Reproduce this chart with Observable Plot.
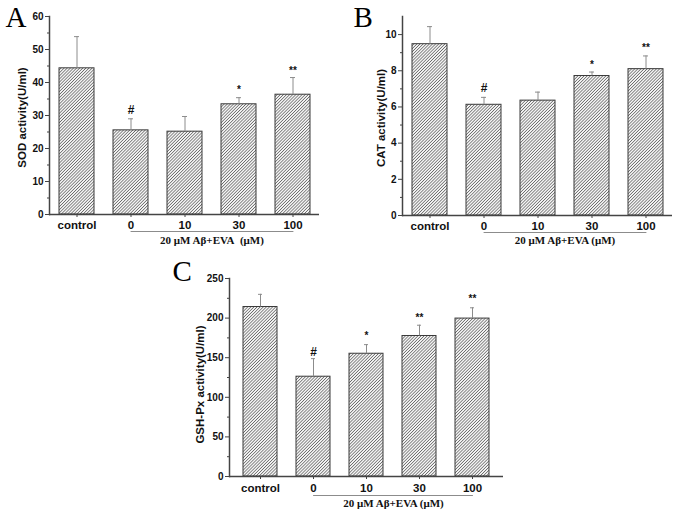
<!DOCTYPE html>
<html>
<head>
<meta charset="utf-8">
<script src="https://cdn.jsdelivr.net/npm/d3@7"></script>
<script src="https://cdn.jsdelivr.net/npm/@observablehq/plot@0.6"></script>
<style>
  body { margin: 0; background: #fff; }
  #root { position: relative; width: 677px; height: 513px; overflow: hidden; background: #fff; }
</style>
</head>
<body>
<svg width="0" height="0" style="position:absolute">
  <defs>
    <pattern id="hatch" patternUnits="userSpaceOnUse" width="2.2" height="2.2" patternTransform="rotate(45)">
      <rect width="2.2" height="2.2" fill="#fff"></rect>
      <line x1="1.1" y1="0" x2="1.1" y2="2.2" stroke="#6a6a6a" stroke-width="0.85"></line>
    </pattern>
  </defs>
</svg>
<div id="root"></div>
<script>
// ---- data ----
const groups = ["control", "0", "10", "30", "100"];
const bracketEnds = ["0", "100"];

const sodMean = [44.3, 25.5, 25.1, 33.4, 36.3];
const sodErr  = [9.6, 3.5, 4.6, 2.0, 5.2];
const sodMark = ["", "#", "", "*", "**"];
const sodMarkY = [0, 31.7, 0, 38.4, 44.2];

const catMean = [9.47, 6.12, 6.35, 7.71, 8.09];
const catErr  = [0.97, 0.41, 0.47, 0.22, 0.73];
const catMark = ["", "#", "", "*", "**"];
const catMarkY = [0, 7.05, 0, 8.47, 9.40];

const gshMean = [214, 126, 155, 177.4, 199.4];
const gshErr  = [16, 22.8, 11.5, 13.6, 13.6];
const gshMark = ["", "#", "*", "**", "**"];
const gshMarkY = [0, 157, 180.4, 203.5, 227];

const sodTicks = [0, 10, 20, 30, 40, 50, 60];
const sodMinor = [5, 15, 25, 35, 45, 55];
const catTicks = [0, 2, 4, 6, 8, 10];
const catMinor = [1, 3, 5, 7, 9];
const gshTicks = [0, 50, 100, 150, 200, 250];
const gshMinor = [25, 75, 125, 175, 225];

const serif = '"Liberation Serif", "Times New Roman", serif';
const sans = '"Liberation Sans", Arial, sans-serif';

function panel(cfg) {
  const rows = groups.map((g, i) => ({
    g, v: cfg.mean[i], top: cfg.mean[i] + cfg.err[i], m: cfg.mark[i], my: cfg.markY[i]
  }));
  const hashRows = rows.filter(d => d.m === "#");
  const starRows = rows.filter(d => d.m.startsWith("*"));
  const plot = Plot.plot({
    width: cfg.width, height: cfg.height,
    marginLeft: cfg.mL, marginRight: cfg.mR, marginTop: cfg.mT, marginBottom: cfg.mB,
    style: { background: "transparent", overflow: "visible", color: "#111" },
    x: { domain: groups, paddingInner: cfg.pi, paddingOuter: cfg.po, label: null },
    y: { domain: cfg.yDomain, label: null },
    marks: [
      Plot.barY(rows, { x: "g", y: "v", fill: "url(#hatch)", stroke: "#3a3a3a", strokeWidth: 1 }),
      Plot.ruleX(rows, { x: "g", y1: "v", y2: "top", stroke: "#8c8c8c", strokeWidth: 1 }),
      Plot.tickY(rows, { x: "g", y: "top", stroke: "#8c8c8c", strokeWidth: 1, insetLeft: 15, insetRight: 15 }),
      Plot.ruleY([0], { stroke: "#444", strokeWidth: 1.5 }),
      Plot.frame({ anchor: "left", stroke: "#444", strokeWidth: 1.5 }),
      Plot.axisY(cfg.yTicks, { tickSize: 4, tickPadding: 2, label: null, stroke: "#444" }),
      Plot.axisY(cfg.yMinor, { tickSize: 2, tickFormat: () => "", label: null, stroke: "#444" }),
      Plot.axisX({ tickSize: 3, tickPadding: cfg.tickPad, label: null, stroke: "#444" }),
      Plot.text(hashRows, { x: "g", y: "my", text: "m", fontFamily: sans, fontSize: 12, fontWeight: "bold", fill: "#111" }),
      Plot.text(starRows, { x: "g", y: "my", text: "m", fontFamily: sans, fontSize: 10, fontWeight: "bold", dy: 2.5, fill: "#111" }),
      Plot.line(bracketEnds, { x: d => d, y: () => 0, dy: cfg.bracketDy, stroke: "#8c8c8c", strokeWidth: 1 }),
      Plot.text([cfg.groupLabel], { x: () => "10", y: () => 0, dx: 27, dy: cfg.groupDy, fontFamily: serif, fontWeight: "bold", fontSize: 11, fill: "#111" }),
      Plot.text([cfg.yLabel], { frameAnchor: "left", textAnchor: "middle", rotate: -90, dx: cfg.labelDx, dy: cfg.labelDy, fontFamily: sans, fontSize: 11.5, fontWeight: "bold", fill: "#111" }),
      Plot.text([cfg.letter], { frameAnchor: "top-left", textAnchor: "start", lineAnchor: "top", dx: cfg.letterDx, dy: cfg.letterDy, fontFamily: serif, fontWeight: "normal", fontSize: 29, fill: "#000" })
    ]
  });
  const svg = d3.select(plot);
  svg.selectAll('g[aria-label="y-axis tick label"]')
    .attr("font-family", sans).attr("font-weight", "bold").attr("font-size", 10).attr("fill", "#111");
  svg.selectAll('g[aria-label="x-axis tick label"]')
    .attr("font-family", sans).attr("font-weight", "bold").attr("font-size", 11.5).attr("fill", "#111");
  plot.style.position = "absolute";
  plot.style.left = cfg.left + "px";
  plot.style.top = cfg.top + "px";
  document.getElementById("root").appendChild(plot);
}

panel({
  mean: sodMean, err: sodErr, mark: sodMark, markY: sodMarkY,
  yDomain: [0, 60], yTicks: sodTicks, yMinor: sodMinor,
  yLabel: "SOD activity(U/ml)", letter: "A", groupLabel: "20 μM Aβ+EVA\u00a0 (μM)",
  left: 0, top: 0, width: 338, height: 250, mL: 49, mR: 19, mT: 16, mB: 36,
  pi: 0.352, po: 0.176, tickPad: 3,
  letterDx: -44, letterDy: -10, labelDx: -27, labelDy: 2, bracketDy: 17, groupDy: 26
});

panel({
  mean: catMean, err: catErr, mark: catMark, markY: catMarkY,
  yDomain: [0, 11], yTicks: catTicks, yMinor: catMinor,
  yLabel: "CAT activity(U/ml)", letter: "B", groupLabel: "20 μM Aβ+EVA (μM)",
  left: 338, top: 0, width: 339, height: 250, mL: 64, mR: 5, mT: 16, mB: 35,
  pi: 0.352, po: 0.176, tickPad: 3,
  letterDx: -49, letterDy: -10, labelDx: -21.3, labelDy: 2, bracketDy: 17, groupDy: 25
});

panel({
  mean: gshMean, err: gshErr, mark: gshMark, markY: gshMarkY,
  yDomain: [0, 250], yTicks: gshTicks, yMinor: gshMinor,
  yLabel: "GSH-Px activity(U/ml)", letter: "C", groupLabel: "20 μM Aβ+EVA (μM)",
  left: 160, top: 250, width: 360, height: 263, mL: 69, mR: 17, mT: 28, mB: 37,
  pi: 0.36, po: 0.229, tickPad: 4,
  letterDx: -57, letterDy: -18, labelDx: -29, labelDy: 7, bracketDy: 19, groupDy: 27
});
</script>
</body>
</html>
